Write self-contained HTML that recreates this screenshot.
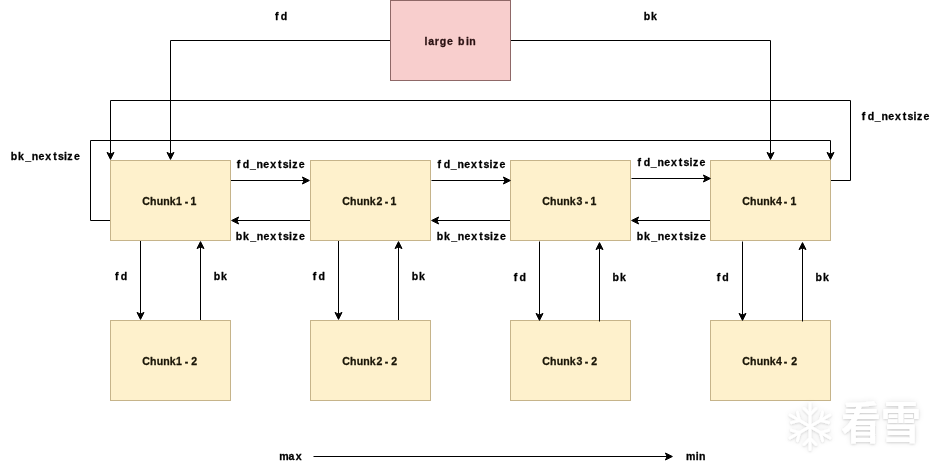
<!DOCTYPE html>
<html lang="en">
<head>
<meta charset="utf-8">
<title>large bin chunk list</title>
<style>
html,body{margin:0;padding:0;background:#fff;}
body{width:940px;height:471px;overflow:hidden;position:relative;}
svg{position:absolute;left:0;top:0;display:block;will-change:transform;}
.lbl{font-family:"Liberation Sans","DejaVu Sans",sans-serif;font-weight:bold;font-size:11.5px;fill:#000;stroke:#000;stroke-width:0.3px;stroke-linejoin:round;white-space:pre;}
.ly{fill:#1a1608;stroke:#1a1608;}
.lp{fill:#2a1112;stroke:#2a1112;}
.wm{font-family:"Noto Sans CJK SC","WenQuanYi Zen Hei",sans-serif;font-weight:700;font-size:40px;fill:#fff;}
</style>
</head>
<body>
<svg width="940" height="471" viewBox="0 0 940 471">
<defs>
<filter id="ws" x="-20%" y="-20%" width="140%" height="140%">
<feGaussianBlur in="SourceAlpha" stdDeviation="3.2" result="b1"/>
<feGaussianBlur in="SourceAlpha" stdDeviation="1.2" result="b2"/>
<feOffset in="b2" dx="0.4" dy="0.7" result="b2o"/>
<feComponentTransfer in="b1" result="s1"><feFuncA type="linear" slope="0.1"/></feComponentTransfer>
<feComponentTransfer in="b2o" result="s2"><feFuncA type="linear" slope="0.14"/></feComponentTransfer>
<feMerge><feMergeNode in="s1"/><feMergeNode in="s2"/><feMergeNode in="SourceGraphic"/></feMerge>
</filter>
</defs>
<rect x="0" y="0" width="940" height="471" fill="#ffffff"/>
<g transform="translate(0.5,0.5)">
<path d="M 390 40 L 170 40 L 170 153.63" fill="none" stroke="#000" stroke-miterlimit="10"/>
<path d="M 170.00 158.88 L 166.50 151.88 L 170.00 153.63 L 173.50 151.88 Z" fill="#000" stroke="#000" stroke-miterlimit="10"/>
<path d="M 510 40 L 770 40 L 770 153.63" fill="none" stroke="#000" stroke-miterlimit="10"/>
<path d="M 770.00 158.88 L 766.50 151.88 L 770.00 153.63 L 773.50 151.88 Z" fill="#000" stroke="#000" stroke-miterlimit="10"/>
<path d="M 830 180 L 850 180 L 850 100 L 110 100 L 110 153.63" fill="none" stroke="#000" stroke-miterlimit="10"/>
<path d="M 110.00 158.88 L 106.50 151.88 L 110.00 153.63 L 113.50 151.88 Z" fill="#000" stroke="#000" stroke-miterlimit="10"/>
<path d="M 110 220 L 90 220 L 90 140 L 830 140 L 830 153.63" fill="none" stroke="#000" stroke-miterlimit="10"/>
<path d="M 830.00 158.88 L 826.50 151.88 L 830.00 153.63 L 833.50 151.88 Z" fill="#000" stroke="#000" stroke-miterlimit="10"/>
<path d="M 230 180 L 303.63 180" fill="none" stroke="#000" stroke-miterlimit="10"/>
<path d="M 308.88 180.00 L 301.88 183.50 L 303.63 180.00 L 301.88 176.50 Z" fill="#000" stroke="#000" stroke-miterlimit="10"/>
<path d="M 310 220 L 236.37 220" fill="none" stroke="#000" stroke-miterlimit="10"/>
<path d="M 231.12 220.00 L 238.12 216.50 L 236.37 220.00 L 238.12 223.50 Z" fill="#000" stroke="#000" stroke-miterlimit="10"/>
<path d="M 510 220 L 436.37 220" fill="none" stroke="#000" stroke-miterlimit="10"/>
<path d="M 431.12 220.00 L 438.12 216.50 L 436.37 220.00 L 438.12 223.50 Z" fill="#000" stroke="#000" stroke-miterlimit="10"/>
<path d="M 710 220 L 636.37 220" fill="none" stroke="#000" stroke-miterlimit="10"/>
<path d="M 631.12 220.00 L 638.12 216.50 L 636.37 220.00 L 638.12 223.50 Z" fill="#000" stroke="#000" stroke-miterlimit="10"/>
<path d="M 140 240 L 140 313.63" fill="none" stroke="#000" stroke-miterlimit="10"/>
<path d="M 140.00 318.88 L 136.50 311.88 L 140.00 313.63 L 143.50 311.88 Z" fill="#000" stroke="#000" stroke-miterlimit="10"/>
<path d="M 200 320 L 200 246.37" fill="none" stroke="#000" stroke-miterlimit="10"/>
<path d="M 200.00 241.12 L 203.50 248.12 L 200.00 246.37 L 196.50 248.12 Z" fill="#000" stroke="#000" stroke-miterlimit="10"/>
<path d="M 338 240 L 338 313.63" fill="none" stroke="#000" stroke-miterlimit="10"/>
<path d="M 338.00 318.88 L 334.50 311.88 L 338.00 313.63 L 341.50 311.88 Z" fill="#000" stroke="#000" stroke-miterlimit="10"/>
<path d="M 398 320 L 398 246.37" fill="none" stroke="#000" stroke-miterlimit="10"/>
<path d="M 398.00 241.12 L 401.50 248.12 L 398.00 246.37 L 394.50 248.12 Z" fill="#000" stroke="#000" stroke-miterlimit="10"/>
<path d="M 313 456 L 666.63 456" fill="none" stroke="#000" stroke-miterlimit="10"/>
<path d="M 671.88 456.00 L 664.88 459.50 L 666.63 456.00 L 664.88 452.50 Z" fill="#000" stroke="#000" stroke-miterlimit="10"/>
<rect x="390" y="0" width="120" height="80" fill="#f8cecd" stroke="#8f6867"/>
<rect x="110" y="160" width="120" height="80" fill="#fef1cc" stroke="#c6b48a"/>
<rect x="110" y="320" width="120" height="80" fill="#fef1cc" stroke="#c6b48a"/>
<rect x="310" y="160" width="120" height="80" fill="#fef1cc" stroke="#c6b48a"/>
<rect x="310" y="320" width="120" height="80" fill="#fef1cc" stroke="#c6b48a"/>
<rect x="510" y="160" width="120" height="80" fill="#fef1cc" stroke="#c6b48a"/>
<rect x="510" y="320" width="120" height="80" fill="#fef1cc" stroke="#c6b48a"/>
<rect x="710" y="160" width="120" height="80" fill="#fef1cc" stroke="#c6b48a"/>
<rect x="710" y="320" width="120" height="80" fill="#fef1cc" stroke="#c6b48a"/>
<path d="M 431 180 L 504.63 180" fill="none" stroke="#000" stroke-miterlimit="10"/>
<path d="M 509.88 180.00 L 502.88 183.50 L 504.63 180.00 L 502.88 176.50 Z" fill="#000" stroke="#000" stroke-miterlimit="10"/>
<path d="M 631 178 L 704.63 178" fill="none" stroke="#000" stroke-miterlimit="10"/>
<path d="M 709.88 178.00 L 702.88 181.50 L 704.63 178.00 L 702.88 174.50 Z" fill="#000" stroke="#000" stroke-miterlimit="10"/>
<path d="M 539 241 L 539 314.63" fill="none" stroke="#000" stroke-miterlimit="10"/>
<path d="M 539.00 319.88 L 535.50 312.88 L 539.00 314.63 L 542.50 312.88 Z" fill="#000" stroke="#000" stroke-miterlimit="10"/>
<path d="M 599 321 L 599 247.37" fill="none" stroke="#000" stroke-miterlimit="10"/>
<path d="M 599.00 242.12 L 602.50 249.12 L 599.00 247.37 L 595.50 249.12 Z" fill="#000" stroke="#000" stroke-miterlimit="10"/>
<path d="M 742 241 L 742 314.63" fill="none" stroke="#000" stroke-miterlimit="10"/>
<path d="M 742.00 319.88 L 738.50 312.88 L 742.00 314.63 L 745.50 312.88 Z" fill="#000" stroke="#000" stroke-miterlimit="10"/>
<path d="M 802 321 L 802 247.37" fill="none" stroke="#000" stroke-miterlimit="10"/>
<path d="M 802.00 242.12 L 805.50 249.12 L 802.00 247.37 L 798.50 249.12 Z" fill="#000" stroke="#000" stroke-miterlimit="10"/>
</g>
<text class="lbl" transform="scale(0.92,1)" x="298.85 305.05" y="20">fd</text>
<text class="lbl" transform="scale(0.92,1)" x="699.66 707.65" y="20">bk</text>
<text class="lbl lp" transform="scale(0.92,1)" x="461.29 465.40 472.47 478.10 486.01 493.95 497.97 506.61 510.11" y="45">large bin</text>
<text class="lbl" transform="scale(0.92,1)" x="936.56 943.10 950.88 958.04 965.42 972.78 981.35 986.46 993.03 996.72 1003.89" y="120">fd_nextsize</text>
<text class="lbl" transform="scale(0.92,1)" x="11.62 19.60 27.41 34.56 41.94 49.30 57.87 62.98 69.55 73.24 80.42" y="160">bk_nextsize</text>
<text class="lbl" transform="scale(0.92,1)" x="257.43 263.97 271.75 278.91 286.28 293.65 302.22 307.32 313.90 317.59 324.76" y="168">fd_nextsize</text>
<text class="lbl" transform="scale(0.92,1)" x="475.69 482.23 490.01 497.17 504.55 511.91 520.48 525.59 532.16 535.85 543.02" y="168">fd_nextsize</text>
<text class="lbl" transform="scale(0.92,1)" x="693.08 699.62 707.41 714.56 721.94 729.30 737.87 742.98 749.55 753.24 760.42" y="166">fd_nextsize</text>
<text class="lbl" transform="scale(0.92,1)" x="256.18 264.17 271.97 279.13 286.50 293.87 302.43 307.54 314.11 317.81 324.98" y="240">bk_nextsize</text>
<text class="lbl" transform="scale(0.92,1)" x="474.66 482.65 490.45 497.61 504.98 512.35 520.91 526.02 532.59 536.29 543.46" y="240">bk_nextsize</text>
<text class="lbl" transform="scale(0.92,1)" x="692.05 700.04 707.84 715.00 722.37 729.74 738.30 743.41 749.98 753.68 760.85" y="240">bk_nextsize</text>
<text class="lbl" transform="scale(0.92,1)" x="124.93 131.14" y="280">fd</text>
<text class="lbl" transform="scale(0.92,1)" x="232.27 240.25" y="280">bk</text>
<text class="lbl" transform="scale(0.92,1)" x="339.93 346.14" y="280">fd</text>
<text class="lbl" transform="scale(0.92,1)" x="447.49 455.47" y="280">bk</text>
<text class="lbl" transform="scale(0.92,1)" x="558.52 564.73" y="281">fd</text>
<text class="lbl" transform="scale(0.92,1)" x="665.86 673.84" y="281">bk</text>
<text class="lbl" transform="scale(0.92,1)" x="778.95 785.16" y="281">fd</text>
<text class="lbl" transform="scale(0.92,1)" x="886.51 894.49" y="281">bk</text>
<text class="lbl" transform="scale(0.92,1)" x="303.40 313.66 321.48" y="460">max</text>
<text class="lbl" transform="scale(0.92,1)" x="745.68 756.18 759.78" y="460">min</text>
<text class="lbl ly" transform="scale(0.92,1)" x="154.57 162.96 170.48 177.33 184.44 191.38 200.86 207.09" y="205">Chunk1-1</text>
<text class="lbl ly" transform="scale(0.92,1)" x="154.57 162.96 170.48 177.33 184.44 191.38 200.86 207.81" y="365">Chunk1-2</text>
<text class="lbl ly" transform="scale(0.92,1)" x="371.96 380.36 387.87 394.73 401.83 409.12 418.25 424.48" y="205">Chunk2-1</text>
<text class="lbl ly" transform="scale(0.92,1)" x="371.96 380.36 387.87 394.73 401.83 409.12 418.25 425.20" y="365">Chunk2-2</text>
<text class="lbl ly" transform="scale(0.92,1)" x="589.36 597.75 605.26 612.12 619.22 626.55 635.65 641.87" y="205">Chunk3-1</text>
<text class="lbl ly" transform="scale(0.92,1)" x="589.36 597.75 605.26 612.12 619.22 626.55 635.65 642.59" y="365">Chunk3-2</text>
<text class="lbl ly" transform="scale(0.92,1)" x="806.75 815.14 822.65 829.51 836.61 843.38 852.00 859.26" y="205">Chunk4-1</text>
<text class="lbl ly" transform="scale(0.92,1)" x="806.75 815.14 822.65 829.51 836.61 843.38 852.00 859.99" y="365">Chunk4-2</text>
<g filter="url(#ws)">
<g stroke="#fff" stroke-width="2.8" stroke-linecap="round" stroke-linejoin="round" fill="none" transform="translate(810,426.5)"><path d="M0 -23 V23 M-20 -11.5 L20 11.5 M-20 11.5 L20 -11.5"/><path d="M-6 -18 L0 -12 L6 -18 M-6 18 L0 12 L6 18"/><path d="M-18.6 -3.8 L-10.4 -6 L-12.6 -14.2 M18.6 3.8 L10.4 6 L12.6 14.2"/><path d="M-18.6 3.8 L-10.4 6 L-12.6 14.2 M18.6 -3.8 L10.4 -6 L12.6 -14.2"/></g>
<text class="wm" transform="translate(841,439) scale(1,1.1)">看雪</text>
</g>
</svg>
</body>
</html>
